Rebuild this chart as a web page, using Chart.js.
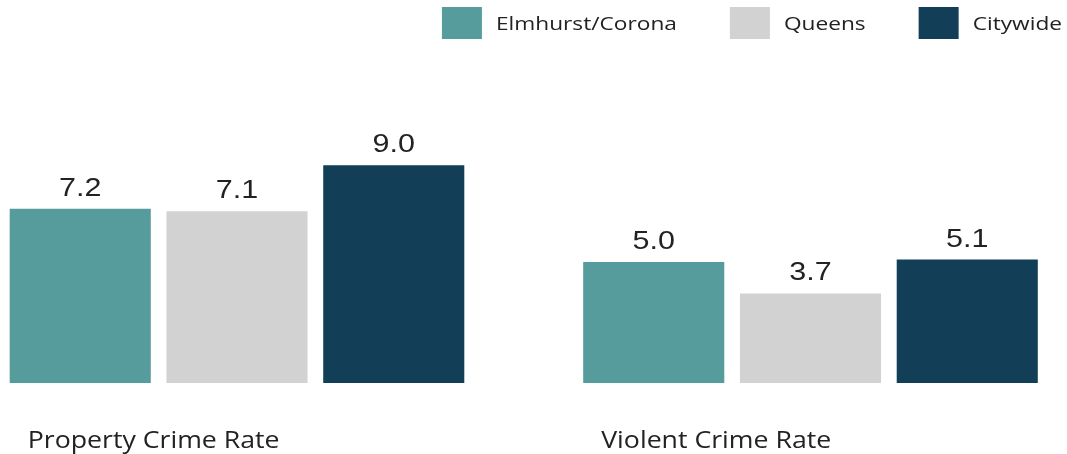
<!DOCTYPE html>
<html>
<head>
<meta charset="utf-8">
<script src="https://cdn.jsdelivr.net/npm/chart.js@4/dist/chart.umd.min.js"></script>
<style>
  html, body { margin: 0; padding: 0; background: #fff; }
  #wrap { width: 1067px; height: 454px; position: relative; }
</style>
</head>
<body>
<div id="wrap"><canvas id="barChart"></canvas></div>
<script>
    // chart data
    var categories = ['Property Crime Rate', 'Violent Crime Rate'];
    var seriesNames = ['Elmhurst/Corona', 'Queens', 'Citywide'];
    var elmhurstValues = [7.2, 5.0];
    var queensValues = [7.1, 3.7];
    var citywideValues = [9.0, 5.1];
    var seriesColors = ['#569c9d', '#d2d2d2', '#133e58'];

    var textColor = '#222222';

    // the reference text looks widened, so draw it scaled on x
    function drawStretched(ctx, text, x, y, align, stretch) {
        ctx.save();
        var w = ctx.measureText(text).width * stretch;
        var left = x;
        if (align === 'center') left = x - w / 2;
        if (align === 'right') left = x - w;
        ctx.translate(left, y);
        ctx.scale(stretch, 1);
        ctx.textAlign = 'left';
        ctx.fillText(text, 0, 0);
        ctx.restore();
        return w;
    }

    // value labels above bars and group labels under them
    const labelPlugin = {
        id: 'labelPlugin',
        afterDatasetsDraw(chart) {
            const ctx = chart.ctx;
            ctx.save();
            ctx.fillStyle = textColor;
            ctx.textBaseline = 'alphabetic';
            ctx.font = '25px "Liberation Sans", Arial, sans-serif';
            chart.data.datasets.forEach(function (ds, di) {
                const meta = chart.getDatasetMeta(di);
                meta.data.forEach(function (bar, i) {
                    drawStretched(ctx, ds.data[i].toFixed(1), bar.x, bar.y - 13, 'center', 1.22);
                });
            });

            ctx.font = '23px "Open Sans", sans-serif';
            const first = chart.getDatasetMeta(0);
            first.data.forEach(function (bar, i) {
                const left = bar.x - bar.width / 2;
                drawStretched(ctx, chart.data.labels[i], left + 18, 448, 'left', 1.16);
            });
            ctx.restore();
        }
    };

    // legend in the top right corner
    const legendPlugin = {
        id: 'legendPlugin',
        afterDraw(chart) {
            const ctx = chart.ctx;
            ctx.save();
            ctx.font = '500 18px "Open Sans", sans-serif';
            ctx.textBaseline = 'alphabetic';
            const boxW = 40, boxH = 32, gapText = 14, gapItem = 53, st = 1.26;
            let x = 1062;
            for (let i = chart.data.datasets.length - 1; i >= 0; i--) {
                const ds = chart.data.datasets[i];
                const tw = ctx.measureText(ds.label).width * st;
                x -= tw;
                ctx.fillStyle = textColor;
                drawStretched(ctx, ds.label, x, 29.5, 'left', st);
                x -= gapText + boxW;
                ctx.fillStyle = ds.backgroundColor;
                ctx.fillRect(x, 7, boxW, boxH);
                x -= gapItem;
            }
            ctx.restore();
        }
    };

    document.addEventListener("DOMContentLoaded", function () {
        const ctx = document.getElementById('barChart').getContext('2d');
        const valueSets = [elmhurstValues, queensValues, citywideValues];

        const data = {
            labels: categories,
            datasets: seriesNames.map(function (name, i) {
                return {
                    label: name,
                    data: valueSets[i],
                    backgroundColor: seriesColors[i],
                    borderWidth: 0,
                    categoryPercentage: 0.82,
                    barPercentage: 0.9,
                    clip: false
                };
            })
        };

        window.myChart = new Chart(ctx, {
            type: 'bar',
            data: data,
            options: {
                responsive: true,
                maintainAspectRatio: false,
                animation: false,
                layout: { padding: { top: 141, bottom: 71, left: 0, right: 0 } },
                plugins: {
                    legend: { display: false },
                    tooltip: { enabled: false }
                },
                scales: {
                    x: { type: 'category', offset: false, display: false },
                    y: {
                        min: 0, max: 10,
                        ticks: { display: false },
                        grid: { display: false },
                        border: { display: false },
                        afterFit: function (scale) { scale.width = 237; }
                    },
                    yRight: {
                        type: 'linear',
                        position: 'right',
                        ticks: { display: false },
                        grid: { display: false },
                        border: { display: false },
                        afterFit: function (scale) { scale.width = 256.5; }
                    }
                }
            },
            plugins: [labelPlugin, legendPlugin]
        });
    });
</script>
</body>
</html>
